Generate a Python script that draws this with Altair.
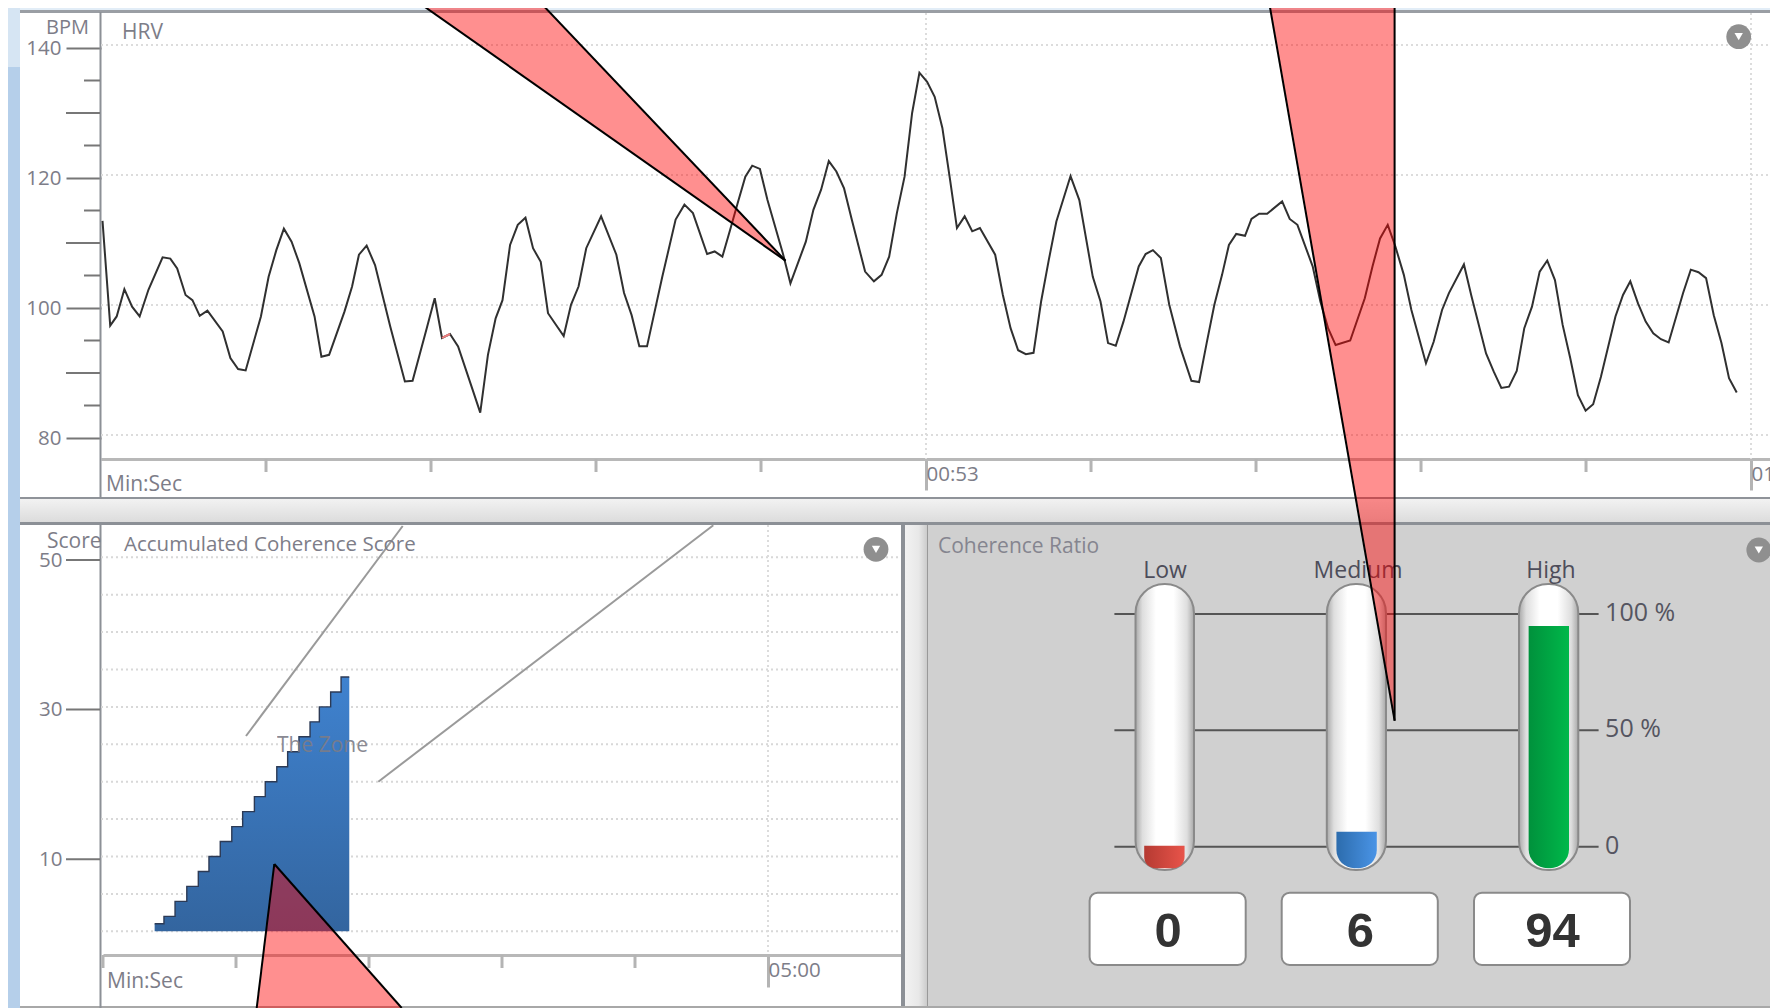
import altair as alt
import pandas as pd

# ---- HRV series (seconds, beats per minute) ----
hrv_t = [-6.89,-6.33,-5.86,-5.30,-4.74,-4.19,-3.55,-2.52,-1.96,-1.46,-0.85,-0.35,0.18,0.74,1.85,2.41,2.97,3.52,4.63,5.19,5.75,6.30,6.86,7.42,8.53,9.03,9.59,10.70,11.26,11.76,12.32,12.93,14.04,15.10,15.66,16.69,17.27,17.80,18.38,18.97,20.03,20.58,21.14,21.70,22.20,22.75,23.31,23.87,24.42,24.98,25.51,26.65,27.18,27.73,28.29,
29.37,30.48,31.04,31.59,32.15,32.71,33.82,34.79,35.43,36.05,37.08,37.63,38.19,38.75,39.30,39.86,40.36,40.92,41.47,42.59,43.14,44.26,44.81,45.37,45.93,46.48,47.04,47.60,48.57,49.21,49.77,50.32,50.88,51.44,51.99,52.52,53.08,53.63,54.19,54.75,55.25,55.81,56.36,56.92,58.03,58.59,59.15,59.70,60.26,60.82,61.37,61.93,62.48,63.51,64.15,65.13,65.69,66.24,66.80,67.36,68.47,68.97,69.50,70.08,70.69,
71.47,72.30,72.86,73.41,73.97,74.53,75.03,75.56,76.20,76.67,77.23,77.81,78.90,79.45,80.01,81.12,81.68,82.24,82.79,83.85,84.91,85.47,86.02,86.58,87.13,87.75,88.30,89.36,89.92,90.53,91.03,92.12,92.67,93.73,94.29,94.84,95.40,95.96,96.51,97.07,97.63,98.18,98.74,99.30,99.85,100.41,100.97,101.52,102.08,103.14,103.69,104.22,104.78,105.34,105.89,106.45,107.01,108.06,108.62,109.18,109.73,110.29,110.85,111.40,111.96]
hrv_bpm = [113.4,97.3,98.7,102.9,100.2,98.7,102.8,107.8,107.6,106.1,102.0,101.2,98.8,99.6,96.4,92.3,90.6,90.4,98.7,104.8,108.9,112.2,110.2,106.9,98.7,92.5,92.8,99.4,103.3,108.2,109.6,106.6,97.1,88.7,88.8,96.9,101.5,95.4,96.0,94.1,87.4,83.9,92.8,98.4,101.2,109.7,112.8,113.9,109.2,107.1,99.2,95.7,100.5,103.3,109.2,
114.1,108.2,102.3,98.9,94.1,94.1,104.8,113.6,115.9,114.6,108.3,108.7,107.9,112.0,116.1,120.2,121.9,121.4,116.6,108.4,103.8,110.2,115.1,118.2,122.6,121.0,118.4,113.6,105.6,104.1,105.1,107.9,114.6,120.2,130.0,136.2,134.8,132.5,127.7,119.7,112.3,114.1,111.8,112.3,108.2,102.0,96.9,93.5,92.9,93.1,101.0,107.4,113.3,120.3,116.6,104.8,101.0,94.6,94.2,97.9,106.4,108.3,108.9,107.7,100.5,
94.1,88.8,88.6,94.6,100.5,105.1,109.7,111.4,111.1,113.7,114.5,114.5,116.4,113.7,112.8,106.4,101.0,96.9,94.3,95.0,101.5,106.4,110.7,112.8,109.5,105.1,99.7,91.5,94.8,99.7,102.3,106.7,101.8,93.0,90.2,87.7,87.9,90.3,96.9,100.2,105.6,107.3,104.3,97.4,92.3,86.6,84.2,85.2,89.4,98.7,102.0,104.1,100.7,97.9,96.1,95.2,94.7,102.3,105.9,105.5,104.6,98.9,94.6,89.2,87.0]
artefact_t = [17.80, 18.38]
artefact_bpm = [95.4, 96.0]

bpm_major = [80, 100, 120, 140]
bpm_mid = [90, 110, 130]
bpm_minor = [85, 95, 105, 115, 125, 135]
hrv_major_t = [53, 113]
hrv_major_lab = ["00:53", "01:53"]
hrv_minor_t = [5, 17, 29, 41, 65, 77, 89, 101]

# ---- Accumulated coherence score (seconds, score) ----
score_t = [23.3,27.5,32.5,37.8,43.0,47.8,52.9,58.1,63.0,68.3,73.2,78.4,83.3,88.4,93.4,97.6,102.7,107.4,111.1]
score_v = [1,2,4,6,8,10,12,14,16,18,20,22,24,26,28,30,32,34,34]
score_major = [10, 30, 50]
score_grid = [0,5,10,15,20,25,30,35,40,45,50]
score_minor_t = [0, 60, 120, 180, 240]
score_major_t = [300]
score_major_lab = ["05:00"]

# ---- Coherence ratio ----
levels = ["Low", "Medium", "High"]
ratio = [0, 6, 94]
ratio_base = [-9.6, -9.6, -9.6]
ratio_ticks = [0, 50, 100]

FONT = "Open Sans"
GRAY = "#7d7d88"
W, H = 1762, 1000


def px(v):
    return v - 8


def text(s, x, y, size=21, color=GRAY, align="left", **kw):
    return alt.Chart().mark_text(text=s, align=align, baseline="middle", fontSize=size,
                                 color=color, font=FONT, **kw).encode(
        x=alt.value(px(x)), y=alt.value(px(y)))


def rect(x, x2, y, y2, fill, **kw):
    return alt.Chart().mark_rect(fill=fill, **kw).encode(
        x=alt.value(px(x)), x2=alt.value(px(x2)), y=alt.value(px(y)), y2=alt.value(px(y2)))


def seg(x, y, x2, y2, color, width=2, **kw):
    return alt.Chart().mark_rule(color=color, strokeWidth=width, **kw).encode(
        x=alt.value(px(x)), x2=alt.value(px(x2)), y=alt.value(px(y)), y2=alt.value(px(y2)))


def grad(stops, horizontal=True):
    return alt.LinearGradient(gradient="linear",
                              stops=[alt.GradientStop(color=c, offset=o) for o, c in stops],
                              x1=0, x2=1 if horizontal else 0, y1=0, y2=0 if horizontal else 1)


def icon(x, y):
    return [
        alt.Chart().mark_point(shape="circle", filled=True, fill="#8f8f8f", opacity=1, size=615).encode(
            x=alt.value(px(x)), y=alt.value(px(y))),
        alt.Chart().mark_point(shape="triangle-down", filled=True, fill="white", opacity=1, size=70).encode(
            x=alt.value(px(x)), y=alt.value(px(y))),
    ]


# scales
hrv_x = alt.Scale(domain=[-7, 114.38], range=[93, 1762], nice=False, zero=False)
hrv_y = alt.Scale(domain=[80, 140], range=[430, 40], nice=False, zero=False)
hrv_grid_y = alt.Scale(domain=[80, 140], range=[427, 37], nice=False, zero=False)
sc_x = alt.Scale(domain=[0, 360], range=[95, 893], nice=False, zero=False)
sc_y = alt.Scale(domain=[0, 50], range=[926, 552], nice=False, zero=False)
sc_grid_y = alt.Scale(domain=[0, 50], range=[923.3, 549.3], nice=False, zero=False)
ra_y = alt.Scale(domain=[0, 100], range=[838.7, 606], nice=False, zero=False)
ra_bar_y = alt.Scale(domain=[0, 100], range=[837.7, 604], nice=False, zero=False)
page_x = alt.Scale(domain=[0, W], range=[0, W], nice=False, zero=False)
page_y = alt.Scale(domain=[0, H], range=[0, H], nice=False, zero=False)

axis_style = dict(title=None, grid=False, labelFont=FONT, labelFontSize=20.5, labelColor=GRAY,
                  labelOverlap=False, labelBound=False, labelFlush=False)


def lab_expr(vals, labs):
    return "+".join(["''"] + [f"(datum.value=={v}?'{l}':'')" for v, l in zip(vals, labs)])


layers = []

# ---- window chrome ----
layers += [
    rect(8, 20, 8, 67, "#d6e5f3"),
    rect(8, 20, 67, 1008, "#b5cfea"),
    rect(20, 1778, 8, 10, "#e2edf7"),
    rect(20, 1778, 10, 13, "#9a9ea4"),
    rect(20, 1778, 497, 499, "#8f9399"),
    rect(20, 1778, 499, 522, grad([(0, "#f2f2f2"), (1, "#dcdcdc")], horizontal=False)),
    rect(20, 1778, 522, 525, "#8c9096"),
    rect(905, 928, 525, 1008, grad([(0, "#f2f2f2"), (0.6, "#e8e8e8"), (1, "#c8c8c8")])),
    rect(928, 1778, 525, 1008, "#d0d0d0"),
    rect(901, 905, 525, 1008, "#8c9096"),
    rect(927, 928, 525, 1008, "#999999"),
    rect(20, 1778, 1006, 1008, "#a8a8a8"),
    seg(100.5, 12, 100.5, 498, "#8c9096", 2),
    seg(100.5, 524, 100.5, 1008, "#8c9096", 2),
]

# ---- HRV panel ----
layers.append(alt.Chart(pd.DataFrame({"v": bpm_major})).mark_rule(
    color="#dcdcdc", strokeWidth=2, strokeDash=[2, 3]).encode(
    y=alt.Y("v:Q", scale=hrv_grid_y, axis=None), x=alt.value(93), x2=alt.value(W)))
layers.append(alt.Chart(pd.DataFrame({"t": hrv_major_t})).mark_rule(
    color="#dcdcdc", strokeWidth=2, strokeDash=[2, 3]).encode(
    x=alt.X("t:Q", scale=hrv_x, axis=None), y=alt.value(5), y2=alt.value(451)))
for vals, left in ((bpm_mid, 66), (bpm_minor, 84)):
    layers.append(alt.Chart(pd.DataFrame({"v": vals})).mark_rule(color="#777777", strokeWidth=2).encode(
        y=alt.Y("v:Q", scale=hrv_y, axis=None), x=alt.value(px(left)), x2=alt.value(92)))
layers.append(alt.Chart(pd.DataFrame({"t": hrv_minor_t})).mark_rule(color="#b4b4b4", strokeWidth=3).encode(
    x=alt.X("t:Q", scale=hrv_x, axis=None), y=alt.value(451), y2=alt.value(464)))
layers.append(alt.Chart(pd.DataFrame({"t": hrv_t, "bpm": hrv_bpm})).mark_line(
    color="#303030", strokeWidth=2).encode(
    x=alt.X("t:Q", sort=None, scale=hrv_x, axis=alt.Axis(
        orient="bottom", offset=-(H - 451), values=hrv_major_t, tickSize=31, tickWidth=3, tickColor="#b4b4b4",
        domain=True, domainColor="#b8b8b8", domainWidth=3, labelAlign="left", labelBaseline="middle",
        labelPadding=-16, labelExpr=lab_expr(hrv_major_t, hrv_major_lab), **axis_style)),
    y=alt.Y("bpm:Q", scale=hrv_y, axis=alt.Axis(
        orient="left", offset=-93, values=bpm_major, tickSize=35, tickWidth=2, tickColor="#777777",
        domain=False, labelPadding=5, **axis_style))))
layers.append(alt.Chart(pd.DataFrame({"t": artefact_t, "bpm": artefact_bpm})).mark_line(
    color="#f08080", strokeWidth=2).encode(
    x=alt.X("t:Q", scale=hrv_x, axis=None), y=alt.Y("bpm:Q", scale=hrv_y, axis=None)))
layers += [
    text("BPM", 46, 28, size=20),
    text("HRV", 122, 33),
    text("Min:Sec", 106, 485),
]
layers += icon(1738.7, 36.7)

# ---- Accumulated coherence score panel ----
layers.append(alt.Chart(pd.DataFrame({"v": score_grid})).mark_rule(
    color="#d8d8d8", strokeWidth=2, strokeDash=[2, 3]).encode(
    y=alt.Y("v:Q", scale=sc_grid_y, axis=None), x=alt.value(93), x2=alt.value(893)))
layers.append(alt.Chart(pd.DataFrame({"t": score_major_t})).mark_rule(
    color="#dcdcdc", strokeWidth=2, strokeDash=[2, 3]).encode(
    x=alt.X("t:Q", scale=sc_x, axis=None), y=alt.value(517), y2=alt.value(947)))
layers.append(alt.Chart(pd.DataFrame({"t": score_minor_t})).mark_rule(color="#b4b4b4", strokeWidth=3).encode(
    x=alt.X("t:Q", scale=sc_x, axis=None), y=alt.value(947), y2=alt.value(960)))
layers += [
    seg(246, 736, 402.7, 526, "#9a9a9a", 2),
    seg(378.3, 781.7, 713.3, 525.3, "#9a9a9a", 2),
]
df_score = pd.DataFrame({"t": score_t, "v": score_v})
layers.append(alt.Chart(df_score).mark_area(
    interpolate="step-after",
    fill=grad([(0, "#3f82cf"), (1, "#33659f")], horizontal=False)).encode(
    x=alt.X("t:Q", scale=sc_x, axis=alt.Axis(
        orient="bottom", offset=-(H - 947), values=score_major_t, tickSize=32, tickWidth=3, tickColor="#b4b4b4",
        domain=True, domainColor="#b8b8b8", domainWidth=3, labelAlign="left", labelBaseline="middle",
        labelPadding=-17, labelExpr=lab_expr(score_major_t, score_major_lab), **axis_style)),
    y=alt.Y("v:Q", scale=sc_grid_y, stack=None, axis=None)))
layers.append(alt.Chart(df_score).mark_line(
    interpolate="step-after", color="#2c3a55", strokeWidth=1.4).encode(
    x=alt.X("t:Q", scale=sc_x, axis=None), y=alt.Y("v:Q", scale=sc_grid_y, axis=None)))
layers.append(alt.Chart(pd.DataFrame({"v": score_major})).mark_rule(color="#777777", strokeWidth=2).encode(
    y=alt.Y("v:Q", scale=sc_y, axis=alt.Axis(
        orient="left", offset=-93, values=score_major, tickSize=0, domain=False, labelPadding=39, **axis_style)),
    x=alt.value(px(66)), x2=alt.value(92)))
layers += [
    text("Score", 47, 542),
    text("Accumulated Coherence Score", 124, 545, size=20.5),
    text("The Zone", 277, 746, opacity=0.9),
    text("Min:Sec", 107, 982),
]
layers += icon(876, 549.3)

# ---- Coherence ratio panel ----
layers.append(text("Coherence Ratio", 938, 547, color="#85858f"))
layers.append(alt.Chart(pd.DataFrame({"p": ratio_ticks})).mark_rule(color="#555555", strokeWidth=2).encode(
    y=alt.Y("p:Q", scale=ra_y, axis=alt.Axis(
        orient="right", offset=-(W - 1590.6), values=ratio_ticks, tickSize=0, domain=False, labelPadding=6,
        zindex=1, labelExpr="datum.value == 0 ? '0' : datum.value + ' %'", labelOffset=-1.5,
        title=None, grid=False, labelFont=FONT, labelFontSize=25, labelColor="#555560", labelOverlap=False,
        labelBound=False, labelFlush=False, labelBaseline="middle", labelAlign="left")),
    x=alt.value(px(1114.4)), x2=alt.value(px(1598.6))))

tube_fill = grad([(0, "#a8a8a8"), (0.12, "#dedede"), (0.35, "#ffffff"), (0.65, "#ffffff"),
                  (0.88, "#dedede"), (1, "#a8a8a8")])
for x0, x1 in ((1135.5, 1194), (1326.8, 1386), (1519, 1578.3)):
    layers.append(rect(x0, x1, 584, 870, tube_fill, cornerRadius=29, stroke="#8a8a8a", strokeWidth=2))

df_ratio = pd.DataFrame({"level": levels, "value": ratio, "base": ratio_base})
bar_x = alt.Scale(domain=levels, range=[1136.2, 1561], paddingInner=0.79, paddingOuter=0)
bar_colors = {"Low": ("#b53a32", "#e8544a"), "Medium": ("#2c6cad", "#4a94e6"), "High": ("#00913c", "#00b84a")}
for lv in levels:
    c0, c1 = bar_colors[lv]
    layers.append(alt.Chart(df_ratio).transform_filter(alt.datum.level == lv).mark_bar(
        fill=grad([(0, c0), (1, c1)]), cornerRadiusBottomLeft=19, cornerRadiusBottomRight=19).encode(
        x=alt.X("level:N", scale=bar_x, axis=None),
        y=alt.Y("value:Q", scale=ra_bar_y, axis=None, stack=None),
        y2=alt.Y2("base:Q")))

layers.append(alt.Chart(df_ratio).mark_text(
    baseline="middle", fontSize=23, color="#4d4d5a", font=FONT).encode(
    x=alt.X("level:N", scale=alt.Scale(domain=levels, type="point", range=[1157, 1543], padding=0), axis=None),
    y=alt.value(px(571)), text="level:N"))

for x0, x1 in ((1089.6, 1245.7), (1281.7, 1437.8), (1474, 1630)):
    layers.append(rect(x0, x1, 892.7, 965, "#ffffff", cornerRadius=8, stroke="#8a8a8a", strokeWidth=2))
layers.append(alt.Chart(df_ratio).mark_text(
    baseline="middle", fontSize=49, fontWeight="bold", color="#333333", font="Liberation Sans").encode(
    x=alt.X("level:N", scale=alt.Scale(domain=levels, type="point", range=[1160, 1544.6], padding=0), axis=None),
    y=alt.value(px(932)), text="value:Q"))
layers += icon(1758.8, 550)

# ---- red annotation wedges over everything ----
wedge_id = ["a", "a", "a", "b", "b", "c", "c", "c"]
wedge_x = [407, 530, 777.5, 1260.7, 1386.6, 248.7, 266.3, 393.7]
wedge_top = [-8, -8, 252.7, -8, -8, 1000, 856, 1000]
wedge_bot = [-8, 78.6, 252.7, -8, 712.7, 1000, 1000, 1000]
layers.append(alt.Chart(pd.DataFrame({"id": wedge_id, "x": wedge_x, "top": wedge_top, "bot": wedge_bot})).mark_area(
    color="#ff0000", opacity=0.44).encode(
    x=alt.X("x:Q", scale=page_x, axis=None),
    y=alt.Y("top:Q", scale=page_y, axis=None, stack=None),
    y2=alt.Y2("bot:Q"),
    detail="id:N"))
for a, b, c, d in ((415, 0, 785.5, 260.7), (538, 0, 785.5, 260.7),
                   (1268.7, 0, 1394.6, 720.7), (1394.6, 0, 1394.6, 720.7),
                   (274.3, 864, 256.7, 1008), (274.3, 864, 401.7, 1008)):
    layers.append(seg(a, b, c, d, "#000000", 2))

chart = alt.layer(*layers).resolve_scale(x="independent", y="independent").properties(
    width=W, height=H, padding=0, background="white",
    autosize=alt.AutoSizeParams(type="none")).configure_view(stroke=None)

chart.save("out.html", embed_options={"renderer": "svg", "actions": False})
